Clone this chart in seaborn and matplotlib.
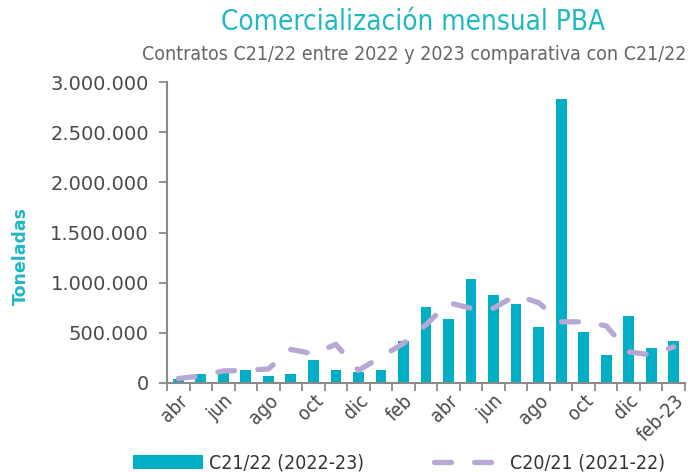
import matplotlib
matplotlib.use("Agg")
import matplotlib.pyplot as plt
import seaborn as sns
import pandas as pd
from matplotlib.ticker import FuncFormatter, FixedLocator

months = ["abr-21", "may-21", "jun-21", "jul-21", "ago-21", "sep-21", "oct-21", "nov-21",
          "dic-21", "ene-22", "feb-22", "mar-22", "abr-22", "may-22", "jun-22", "jul-22",
          "ago-22", "sep-22", "oct-22", "nov-22", "dic-22", "ene-23", "feb-23"]
tick_labels = ["abr", "", "jun", "", "ago", "", "oct", "", "dic", "", "feb", "",
               "abr", "", "jun", "", "ago", "", "oct", "", "dic", "", "feb-23"]
yticks = [0, 500000, 1000000, 1500000, 2000000, 2500000, 3000000]
c2122 = [37000, 87000, 95000, 127000, 70000, 87000, 230000, 127000, 107000, 127000,
         415000, 753000, 633000, 1033000, 877000, 790000, 560000, 2833000, 510000,
         283000, 667000, 353000, 423000]
c2021 = [45000, 70000, 120000, 125000, 140000, 335000, 290000, 385000, 125000, 260000,
         395000, 580000, 800000, 745000, 745000, 875000, 800000, 610000, 610000,
         570000, 310000, 280000, 360000]

TEAL = "#00afc6"
LAV = "#b6a8d3"
TITLE = "#1fb8c4"
GRAY = "#4a4a4a"

sns.set_theme(style="white")
plt.rcParams["font.family"] = ["DejaVu Sans"]

df = pd.DataFrame({"mes": months, "pos": range(len(months)), "C21/22": c2122, "C20/21": c2021})

fig = plt.figure(figsize=(6.88, 4.72), dpi=100)
ax = fig.add_axes([167 / 688, 1 - 383 / 472, (685 - 167) / 688, (383 - 82) / 472])

sns.barplot(data=df, x="pos", y="C21/22", color=TEAL, width=0.48, saturation=1,
            linewidth=0, ax=ax, label="C21/22 (2022-23)")
sns.lineplot(data=df, x="pos", y="C20/21", color=LAV, linewidth=3.8, ax=ax,
             label="C20/21 (2021-22)")
ln = ax.lines[-1]
ln.set_dashes((3.2, 4.4))
ln.set_dash_capstyle("round")

ax.set_xlim(-0.5, len(months) - 0.5)
ax.set_ylim(0, 3000000)
ax.set_yticks(yticks)
ax.yaxis.set_major_formatter(FuncFormatter(lambda v, p: f"{int(v):,}".replace(",", ".")))

ax.set_xticks(range(len(months)))
ax.set_xticklabels(tick_labels, rotation=45, ha="right", rotation_mode="anchor",
                   fontstretch="condensed")
ax.xaxis.set_minor_locator(FixedLocator([i - 0.5 for i in range(len(months) + 1)]))
ax.tick_params(axis="x", which="major", length=0, pad=6, labelsize=14, labelcolor=GRAY)
ax.tick_params(axis="x", which="minor", length=6, width=1.3, color="#8a8a8a", direction="out",
               bottom=True)
ax.tick_params(axis="y", length=6, width=1.3, color="#8a8a8a", direction="out", left=True,
               labelsize=14, labelcolor=GRAY, pad=7)

for s in ["top", "right"]:
    ax.spines[s].set_visible(False)
for s in ["left", "bottom"]:
    ax.spines[s].set_color("#8a8a8a")
    ax.spines[s].set_linewidth(1.5)

ax.set_xlabel("")
ax.set_ylabel("")
fig.text(21 / 688, 1 - 256 / 472, "Toneladas", rotation=90, ha="center", va="center",
         color=TITLE, fontsize=12.5, fontweight="bold")

fig.text(0.601, 1 - 22 / 472, "Comercialización mensual PBA", ha="center", va="center",
         color=TITLE, fontsize=20, fontstretch="condensed")
fig.text(0.602, 1 - 55 / 472, "Contratos C21/22 entre 2022 y 2023 comparativa con C21/22",
         ha="center", va="center", color="#666666", fontsize=14, fontstretch="condensed")

if ax.legend_:
    ax.legend_.remove()
handles, labels = ax.get_legend_handles_labels()
order = [labels.index("C21/22 (2022-23)"), labels.index("C20/21 (2021-22)")]
handles = [handles[i] for i in order]
labels = [labels[i] for i in order]
fig.legend(handles, labels, loc="center", bbox_to_anchor=(0.58, 1 - 463 / 472), ncol=2,
           frameon=False, prop={"size": 14, "stretch": "condensed"}, handlelength=3.6,
           handleheight=0.75, columnspacing=3.6, handletextpad=0.3, labelcolor="#333333")

fig.savefig("out.png", dpi=100)
